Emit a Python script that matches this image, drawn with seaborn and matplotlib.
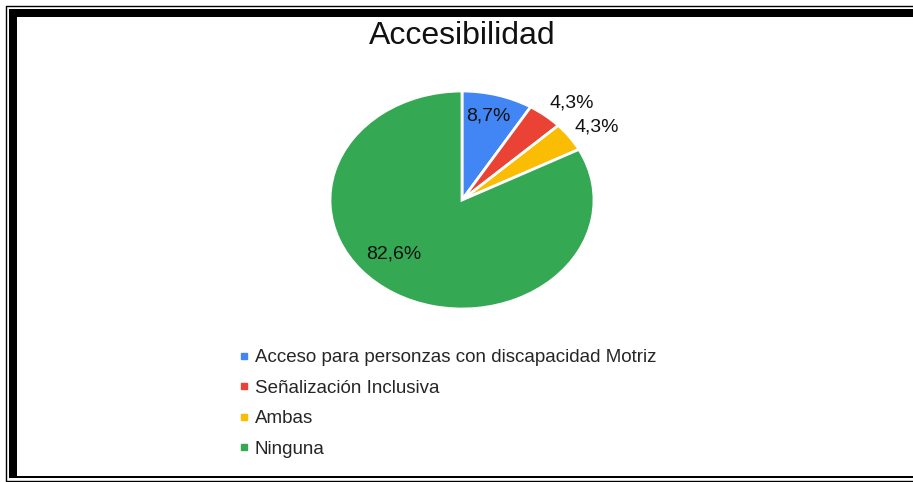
import numpy as np
import matplotlib
matplotlib.use("Agg")
import matplotlib.pyplot as plt
import seaborn as sns
from matplotlib.patches import Rectangle
from matplotlib.lines import Line2D


# DATA

categories = [
    "Acceso para personzas con discapacidad Motriz",
    "Señalización Inclusiva",
    "Ambas",
    "Ninguna",
]
percentages = [8.7, 4.3, 4.3, 82.6]
pct_labels = ["8,7%", "4,3%", "4,3%", "82,6%"]
colors = ["#4285F4", "#EA4335", "#FBBC04", "#34A853"]


# STYLE

sns.set_theme(style="white")
plt.rcParams["font.family"] = ["Liberation Sans", "DejaVu Sans"]

W, H = 913, 482
fig = plt.figure(figsize=(W / 100, H / 100), dpi=100)
fig.patch.set_facecolor("white")


def px_box(x0, y0, x1, y1):
    """pixel box (top-left origin) -> figure fraction [left, bottom, width, height]"""
    return [x0 / W, 1 - y1 / H, (x1 - x0) / W, (y1 - y0) / H]


# PIE

ax = fig.add_axes(px_box(330, 91, 594, 309))
wedges, texts = ax.pie(
    percentages,
    colors=colors,
    startangle=90,
    counterclock=False,
    labels=pct_labels,
    labeldistance=1.0,
    wedgeprops=dict(edgecolor="white", linewidth=2),
    textprops=dict(fontsize=14, color="#111111"),
)
ax.set_aspect("auto")
ax.set_xlim(-1, 1)
ax.set_ylim(-1, 1)

# label placement relative to each wedge (radius, angle shift)
label_r = [0.80, 1.22, 1.22, 0.72]
label_shift = [1, -4, -2, -15]
for w, t, r, s in zip(wedges, texts, label_r, label_shift):
    ang = np.deg2rad((w.theta1 + w.theta2) / 2 + s)
    t.set_position((r * np.cos(ang), r * np.sin(ang)))
    t.set_ha("center")
    t.set_va("center")

fig.text(462 / W, 1 - 36 / H, "Accesibilidad", ha="center", va="center",
         fontsize=23, color="#111111")

# LEGEND

handles = [Line2D([], [], marker="s", linestyle="none", markersize=4.5,
                  markerfacecolor=c, markeredgecolor=c) for c in colors]
fig.legend(handles, categories, loc="upper left",
           bbox_to_anchor=(238 / W, 1 - 349 / H), frameon=False,
           fontsize=13.5, handlelength=0.6, handletextpad=0.3,
           labelspacing=0.72, borderpad=0, borderaxespad=0)

# FRAME (document border)

for box in [(9, 9.5, W, 17), (9, 9.5, 17, 478), (9, 475.5, W, 478)]:
    l, b, w, h = px_box(*box)
    fig.add_artist(Rectangle((l, b), w, h, transform=fig.transFigure,
                             facecolor="black", edgecolor="none"))
fig.add_artist(Line2D([5.5 / W, 1], [1 - 6 / H] * 2, transform=fig.transFigure,
                      color="black", linewidth=1.0))
fig.add_artist(Line2D([5.5 / W, 1], [1 - 480.5 / H] * 2, transform=fig.transFigure,
                      color="black", linewidth=1.0))
fig.add_artist(Line2D([5.5 / W] * 2, [1 - 6 / H, 1 - 480.5 / H], transform=fig.transFigure,
                      color="black", linewidth=1.0))

fig.savefig("out.png", dpi=100)
